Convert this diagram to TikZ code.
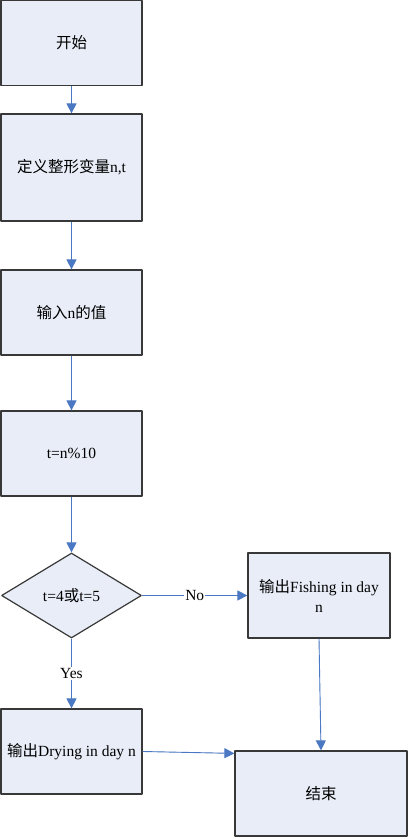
\documentclass[tikz,border=0pt]{standalone}
\usepackage{fontspec}
\setmainfont{Liberation Serif}
\newfontfamily\cjk{Noto Sans CJK SC}
\usetikzlibrary{arrows.meta}
\usetikzlibrary{shapes.geometric}

\begin{document}
\begin{tikzpicture}[>={Triangle[width=10pt,length=10pt]},x=1pt,y=1pt,line join=bevel,
  box/.style={draw=strokecol,fill=fillcol,line width=1.2pt,rectangle,minimum width=141pt,minimum height=85pt,inner sep=2pt,font=\fontsize{15.5}{20}\selectfont,align=center},
  flow/.style={draw=arrowcol,line width=0.9pt,->,fill=arrowcol},
  lbl/.style={fill=white,inner sep=1pt,font=\fontsize{15.5}{18}\selectfont}]
\useasboundingbox (0,0) rectangle (408,837);
%%
  \definecolor{strokecol}{rgb}{0.22,0.22,0.22};
  \definecolor{fillcol}{rgb}{0.91,0.93,0.97};
  \definecolor{arrowcol}{rgb}{0.29,0.47,0.76};
  \node (start) at (71.5,794.0) [box] {{\cjk 开始}};
  \node (define) at (71.5,669.5) [box,minimum height=107pt] {{\cjk 定义整形变量}n,t};
  \node (input) at (71.5,524.5) [box] {{\cjk 输入}n{\cjk 的值}};
  \node (mod) at (71.5,383.5) [box] {t=n\%10};
  \node (cond) at (71.5,241.5) [box,diamond,minimum width=140pt,minimum height=85pt,inner sep=0pt] {t=4{\cjk 或}t=5};
  \node (fish) at (319.0,241.5) [box,minimum width=142pt] {{\cjk 输出}Fishing in day\\n};
  \node (dry) at (71.5,85.5) [box] {{\cjk 输出}Drying in day n};
  \node (finish) at (321.0,43.5) [box,minimum width=172pt] {{\cjk 结束}};
  \draw [flow] (start) -- (define);
  \draw [flow] (define) -- (input);
  \draw [flow] (input) -- (mod);
  \draw [flow] (mod) -- (cond);
  \draw [flow] (cond.east) -- node [lbl] {No} (fish.west);
  \draw [flow] (cond.south) -- node [lbl] {Yes} (dry.north);
  \draw [flow] (fish.south) -- (finish.north);
  \draw [flow] (dry.east) -- ([yshift=-3pt]finish.north west);
%
\end{tikzpicture}
\end{document}
